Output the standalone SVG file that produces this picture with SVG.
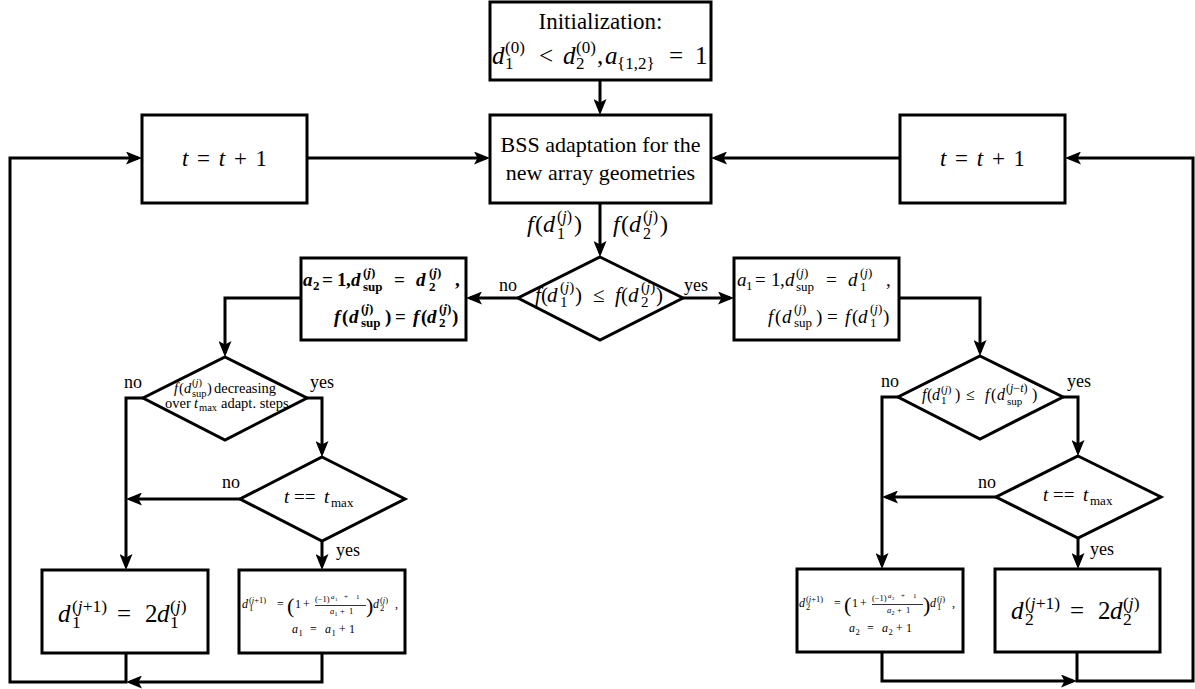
<svg xmlns="http://www.w3.org/2000/svg" width="1195" height="689" viewBox="0 0 1195 689">
<style>
.box{fill:#fff;stroke:#000;stroke-width:3}
.ln{fill:none;stroke:#000;stroke-width:3;marker-end:url(#ah)}
.i{font-style:italic}
.bd{font-weight:bold}
</style>
<defs>
<marker id="ah" markerUnits="userSpaceOnUse" markerWidth="17" markerHeight="13" refX="12" refY="6.5" orient="auto"><path d="M0,0 L16,6.5 L0,13 L3.5,6.5 z" fill="#000"/></marker>
</defs>
<rect width="1195" height="689" fill="#fff"/>

<g id="connectors">
<path class="ln" d="M600,80 V111"/>
<path class="ln" d="M600,203 V253"/>
<path class="ln" d="M518,298 H470"/>
<path class="ln" d="M683,298 H730"/>
<path class="ln" d="M301,298 H225 V353"/>
<path class="ln" d="M899,298 H980 V352"/>
<path class="ln" d="M143,398 H126 V566"/>
<path class="ln" d="M307,398 H322 V453"/>
<path class="ln" d="M240,499 H130"/>
<path class="ln" d="M322,541 V566"/>
<path class="ln" d="M126,653 V682 H10 V158 H138"/>
<path class="ln" d="M322,653 V682 H130"/>
<path class="ln" d="M307,158 H486"/>
<path class="ln" d="M898,397 H882 V565"/>
<path class="ln" d="M1063,397 H1078 V452"/>
<path class="ln" d="M996,497 H886"/>
<path class="ln" d="M1078,538 V565"/>
<path class="ln" d="M882,652 V681 H1073"/>
<path class="ln" d="M1077,652 V681 H1193 V158 H1069"/>
<path class="ln" d="M900,158 H715"/>
<text font-family="Liberation Serif" font-size="24"><tspan class="i" x="527" y="232">f</tspan><tspan x="535" y="232">(</tspan><tspan class="i" x="543" y="232">d</tspan><tspan font-size="16" x="557" y="222">(<tspan class="i">j</tspan>)</tspan><tspan font-size="16" x="557" y="239">1</tspan><tspan x="574" y="232">)</tspan></text>
<text font-family="Liberation Serif" font-size="24"><tspan class="i" x="613" y="232">f</tspan><tspan x="621" y="232">(</tspan><tspan class="i" x="629" y="232">d</tspan><tspan font-size="16" x="643" y="222">(<tspan class="i">j</tspan>)</tspan><tspan font-size="16" x="643" y="239">2</tspan><tspan x="660" y="232">)</tspan></text>
<text font-family="Liberation Serif" font-size="18" x="499" y="291">no</text>
<text font-family="Liberation Serif" font-size="18" x="684" y="291">yes</text>
<text font-family="Liberation Serif" font-size="18" x="124" y="388">no</text>
<text font-family="Liberation Serif" font-size="18" x="310" y="388">yes</text>
<text font-family="Liberation Serif" font-size="18" x="222" y="488">no</text>
<text font-family="Liberation Serif" font-size="18" x="336" y="556">yes</text>
<text font-family="Liberation Serif" font-size="18" x="881" y="387">no</text>
<text font-family="Liberation Serif" font-size="18" x="1067" y="387">yes</text>
<text font-family="Liberation Serif" font-size="18" x="978" y="488">no</text>
<text font-family="Liberation Serif" font-size="18" x="1090" y="555">yes</text>
</g>

<g id="init">
<rect class="box" x="490" y="2" width="221" height="78"/>
<text font-family="Liberation Serif" x="600.5" y="29" text-anchor="middle" font-size="23">Initialization:</text>
<text font-family="Liberation Serif" font-size="25"><tspan class="i" x="492" y="64">d</tspan><tspan font-size="17" x="505" y="53">(0)</tspan><tspan font-size="17" x="505" y="69">1</tspan><tspan x="539" y="64">&lt;</tspan><tspan class="i" x="563" y="64">d</tspan><tspan font-size="17" x="576" y="53">(0)</tspan><tspan font-size="17" x="576" y="69">2</tspan><tspan x="597" y="64">,</tspan><tspan class="i" x="605" y="64">a</tspan><tspan font-size="17" x="617" y="69">{1,2}</tspan><tspan x="669" y="64">=</tspan><tspan x="695" y="64">1</tspan></text>
</g>

<g id="bss">
<rect class="box" x="490" y="115" width="221" height="88"/>
<text font-family="Liberation Serif" x="600.5" y="152" text-anchor="middle" font-size="22">BSS adaptation for the</text>
<text font-family="Liberation Serif" x="600.5" y="180" text-anchor="middle" font-size="22">new array geometries</text>
</g>

<g id="tleft">
<rect class="box" x="142" y="115" width="165" height="88"/>
<text font-family="Liberation Serif" x="224.5" y="166" text-anchor="middle" font-size="23" word-spacing="3"><tspan class="i">t</tspan> = <tspan class="i">t</tspan> + 1</text>
</g>

<g id="tright">
<rect class="box" x="900" y="115" width="165" height="88"/>
<text font-family="Liberation Serif" x="982.5" y="166" text-anchor="middle" font-size="23" word-spacing="3"><tspan class="i">t</tspan> = <tspan class="i">t</tspan> + 1</text>
</g>

<g id="compare">
<polygon class="box" points="600,257 683,298 600,340 518,298"/>
<text font-family="Liberation Serif" font-size="21"><tspan class="i" x="535" y="302">f</tspan><tspan x="541" y="302">(</tspan><tspan class="i" x="547" y="302">d</tspan><tspan font-size="15" x="560" y="292">(<tspan class="i">j</tspan>)</tspan><tspan font-size="15" x="560" y="307">1</tspan><tspan x="575" y="302">)</tspan><tspan x="593" y="302">≤</tspan><tspan class="i" x="615" y="302">f</tspan><tspan x="621" y="302">(</tspan><tspan class="i" x="628" y="302">d</tspan><tspan font-size="15" x="641" y="292">(<tspan class="i">j</tspan>)</tspan><tspan font-size="15" x="641" y="307">2</tspan><tspan x="656" y="302">)</tspan></text>
</g>

<g id="set2">
<rect class="box" x="301" y="258" width="165" height="82"/>
<text font-family="Liberation Serif" class="bd" font-size="19"><tspan class="i" x="303" y="286">a</tspan><tspan font-size="13" x="313" y="290">2</tspan><tspan x="322" y="286">=</tspan><tspan x="337" y="286">1</tspan><tspan x="346" y="286">,</tspan><tspan class="i" x="351" y="286">d</tspan><tspan font-size="13" x="363" y="277">(<tspan class="i">j</tspan>)</tspan><tspan font-size="13" x="363" y="291">sup</tspan><tspan x="394" y="286">=</tspan><tspan class="i" x="416" y="286">d</tspan><tspan font-size="13" x="429" y="277">(<tspan class="i">j</tspan>)</tspan><tspan font-size="13" x="429" y="291">2</tspan><tspan x="455" y="286">,</tspan></text>
<text font-family="Liberation Serif" class="bd" font-size="19"><tspan class="i" x="334" y="323">f</tspan><tspan x="342" y="323">(</tspan><tspan class="i" x="349" y="323">d</tspan><tspan font-size="13" x="361" y="313">(<tspan class="i">j</tspan>)</tspan><tspan font-size="13" x="361" y="327">sup</tspan><tspan x="385" y="323">)</tspan><tspan x="395" y="323">=</tspan><tspan class="i" x="413" y="323">f</tspan><tspan x="421" y="323">(</tspan><tspan class="i" x="427" y="323">d</tspan><tspan font-size="13" x="439" y="313">(<tspan class="i">j</tspan>)</tspan><tspan font-size="13" x="439" y="327">2</tspan><tspan x="452" y="323">)</tspan></text>
</g>

<g id="set1">
<rect class="box" x="734" y="258" width="165" height="82"/>
<text font-family="Liberation Serif" font-size="19"><tspan class="i" x="737" y="286">a</tspan><tspan font-size="13" x="746" y="290">1</tspan><tspan x="755" y="286">=</tspan><tspan x="771" y="286">1</tspan><tspan x="780" y="286">,</tspan><tspan class="i" x="785" y="286">d</tspan><tspan font-size="13" x="796" y="277">(<tspan class="i">j</tspan>)</tspan><tspan font-size="13" x="796" y="291">sup</tspan><tspan x="826" y="286">=</tspan><tspan class="i" x="848" y="286">d</tspan><tspan font-size="13" x="860" y="277">(<tspan class="i">j</tspan>)</tspan><tspan font-size="13" x="860" y="291">1</tspan><tspan x="886" y="286">,</tspan></text>
<text font-family="Liberation Serif" font-size="19"><tspan class="i" x="768" y="323">f</tspan><tspan x="775" y="323">(</tspan><tspan class="i" x="782" y="323">d</tspan><tspan font-size="13" x="794" y="313">(<tspan class="i">j</tspan>)</tspan><tspan font-size="13" x="794" y="327">sup</tspan><tspan x="816" y="323">)</tspan><tspan x="827" y="323">=</tspan><tspan class="i" x="845" y="323">f</tspan><tspan x="852" y="323">(</tspan><tspan class="i" x="858" y="323">d</tspan><tspan font-size="13" x="870" y="313">(<tspan class="i">j</tspan>)</tspan><tspan font-size="13" x="870" y="327">1</tspan><tspan x="883" y="323">)</tspan></text>
</g>

<g id="decLeft">
<polygon class="box" points="225,357 307,398 225,440 143,398"/>
<text font-family="Liberation Serif" font-size="14.5"><tspan class="i" x="174" y="393">f</tspan><tspan x="179" y="393">(</tspan><tspan class="i" x="184" y="393">d</tspan><tspan font-size="10.5" x="192" y="386">(<tspan class="i">j</tspan>)</tspan><tspan font-size="10.5" x="192" y="397">sup</tspan><tspan x="207" y="393">)</tspan><tspan x="214" y="393">decreasing</tspan></text>
<text font-family="Liberation Serif" font-size="14.5"><tspan x="165" y="408">over</tspan><tspan class="i" x="194" y="408">t</tspan><tspan font-size="10.5" x="199" y="411">max</tspan><tspan x="221" y="408">adapt. steps</tspan></text>
</g>

<g id="tmaxLeft">
<polygon class="box" points="322,457 405,499 322,541 240,499"/>
<text font-family="Liberation Serif" font-size="19"><tspan class="i" x="284" y="503">t</tspan><tspan x="294" y="503">==</tspan><tspan class="i" x="324" y="503">t</tspan><tspan font-size="13" x="331" y="507">max</tspan></text>
</g>

<g id="decRight">
<polygon class="box" points="980,356 1063,397 980,439 898,397"/>
<text font-family="Liberation Serif" font-size="16"><tspan class="i" x="922" y="400">f</tspan><tspan x="927" y="400">(</tspan><tspan class="i" x="932" y="400">d</tspan><tspan font-size="11" x="941" y="393">(<tspan class="i">j</tspan>)</tspan><tspan font-size="11" x="941" y="404">1</tspan><tspan x="955" y="400">)</tspan><tspan x="966" y="400">≤</tspan><tspan class="i" x="985" y="400">f</tspan><tspan x="991" y="400">(</tspan><tspan class="i" x="997" y="400">d</tspan><tspan font-size="12" x="1006" y="392">(<tspan class="i">j</tspan>−<tspan class="i">t</tspan>)</tspan><tspan font-size="11" x="1007" y="405">sup</tspan><tspan x="1032" y="400">)</tspan></text>
</g>

<g id="tmaxRight">
<polygon class="box" points="1078,456 1161,497 1078,538 996,497"/>
<text font-family="Liberation Serif" font-size="19"><tspan class="i" x="1043" y="501">t</tspan><tspan x="1053" y="501">==</tspan><tspan class="i" x="1083" y="501">t</tspan><tspan font-size="13" x="1090" y="505">max</tspan></text>
</g>

<g id="double1">
<rect class="box" x="42" y="570" width="166" height="83"/>
<text font-family="Liberation Serif" font-size="25"><tspan class="i" x="58" y="622">d</tspan><tspan font-size="17.5" x="72" y="612">(<tspan class="i">j</tspan>+1)</tspan><tspan font-size="17.5" x="72" y="628">1</tspan><tspan x="117" y="622">=</tspan><tspan x="145" y="622">2</tspan><tspan class="i" x="157" y="622">d</tspan><tspan font-size="17.5" x="170" y="612">(<tspan class="i">j</tspan>)</tspan><tspan font-size="17.5" x="170" y="628">1</tspan></text>
</g>

<g id="frac1">
<rect class="box" x="239" y="570" width="166" height="83"/>
<text font-family="Liberation Serif" font-size="12"><tspan class="i" x="242" y="608">d</tspan><tspan font-size="8.5" x="249" y="603">(<tspan class="i">j</tspan>+1)</tspan><tspan font-size="8.5" x="249" y="611">1</tspan><tspan x="277" y="608">=</tspan><tspan font-size="22" x="287" y="613">(</tspan><tspan x="295" y="608">1</tspan><tspan x="303" y="608">+</tspan><tspan font-size="8.5" x="315" y="602">(−1)</tspan><tspan class="i" font-size="7" x="331" y="599">a</tspan><tspan font-size="5" x="335" y="601">1</tspan><tspan font-size="7" x="344" y="599">+</tspan><tspan font-size="7" x="356" y="599">1</tspan><tspan class="i" font-size="8.5" x="330" y="614">a</tspan><tspan font-size="6" x="334.5" y="616">1</tspan><tspan font-size="8.5" x="340" y="614">+</tspan><tspan font-size="8.5" x="349" y="614">1</tspan><tspan font-size="22" x="366" y="613">)</tspan><tspan class="i" x="373" y="608">d</tspan><tspan font-size="8.5" x="380" y="603">(<tspan class="i">j</tspan>)</tspan><tspan font-size="8.5" x="380" y="611">2</tspan><tspan x="395" y="608">,</tspan></text>
<line x1="315" y1="605.5" x2="366" y2="605.5" stroke="#000" stroke-width="0.8"/>
<text font-family="Liberation Serif" font-size="12"><tspan class="i" x="292" y="633">a</tspan><tspan font-size="8.5" x="298.5" y="635.5">1</tspan><tspan x="310" y="633">=</tspan><tspan class="i" x="325" y="633">a</tspan><tspan font-size="8.5" x="331.5" y="635.5">1</tspan><tspan x="339" y="633">+</tspan><tspan x="349" y="633">1</tspan></text>
</g>

<g id="frac2">
<rect class="box" x="797" y="569" width="166" height="83"/>
<text font-family="Liberation Serif" font-size="12"><tspan class="i" x="799" y="607">d</tspan><tspan font-size="8.5" x="806" y="602">(<tspan class="i">j</tspan>+1)</tspan><tspan font-size="8.5" x="806" y="610">2</tspan><tspan x="834" y="607">=</tspan><tspan font-size="22" x="844" y="612">(</tspan><tspan x="852" y="607">1</tspan><tspan x="860" y="607">+</tspan><tspan font-size="8.5" x="872" y="601">(−1)</tspan><tspan class="i" font-size="7" x="888" y="598">a</tspan><tspan font-size="5" x="892" y="600">2</tspan><tspan font-size="7" x="901" y="598">+</tspan><tspan font-size="7" x="913" y="598">1</tspan><tspan class="i" font-size="8.5" x="887" y="613">a</tspan><tspan font-size="6" x="891.5" y="615">2</tspan><tspan font-size="8.5" x="897" y="613">+</tspan><tspan font-size="8.5" x="906" y="613">1</tspan><tspan font-size="22" x="923" y="612">)</tspan><tspan class="i" x="930" y="607">d</tspan><tspan font-size="8.5" x="937" y="602">(<tspan class="i">j</tspan>)</tspan><tspan font-size="8.5" x="937" y="610">1</tspan><tspan x="952" y="607">,</tspan></text>
<line x1="872" y1="604.5" x2="923" y2="604.5" stroke="#000" stroke-width="0.8"/>
<text font-family="Liberation Serif" font-size="12"><tspan class="i" x="849" y="632">a</tspan><tspan font-size="8.5" x="855.5" y="634.5">2</tspan><tspan x="867" y="632">=</tspan><tspan class="i" x="882" y="632">a</tspan><tspan font-size="8.5" x="888.5" y="634.5">2</tspan><tspan x="896" y="632">+</tspan><tspan x="906" y="632">1</tspan></text>
</g>

<g id="double2">
<rect class="box" x="995" y="569" width="165" height="83"/>
<text font-family="Liberation Serif" font-size="25"><tspan class="i" x="1011" y="619">d</tspan><tspan font-size="17.5" x="1025" y="609">(<tspan class="i">j</tspan>+1)</tspan><tspan font-size="17.5" x="1025" y="625">2</tspan><tspan x="1070" y="619">=</tspan><tspan x="1098" y="619">2</tspan><tspan class="i" x="1110" y="619">d</tspan><tspan font-size="17.5" x="1123" y="609">(<tspan class="i">j</tspan>)</tspan><tspan font-size="17.5" x="1123" y="625">2</tspan></text>
</g>
</svg>
